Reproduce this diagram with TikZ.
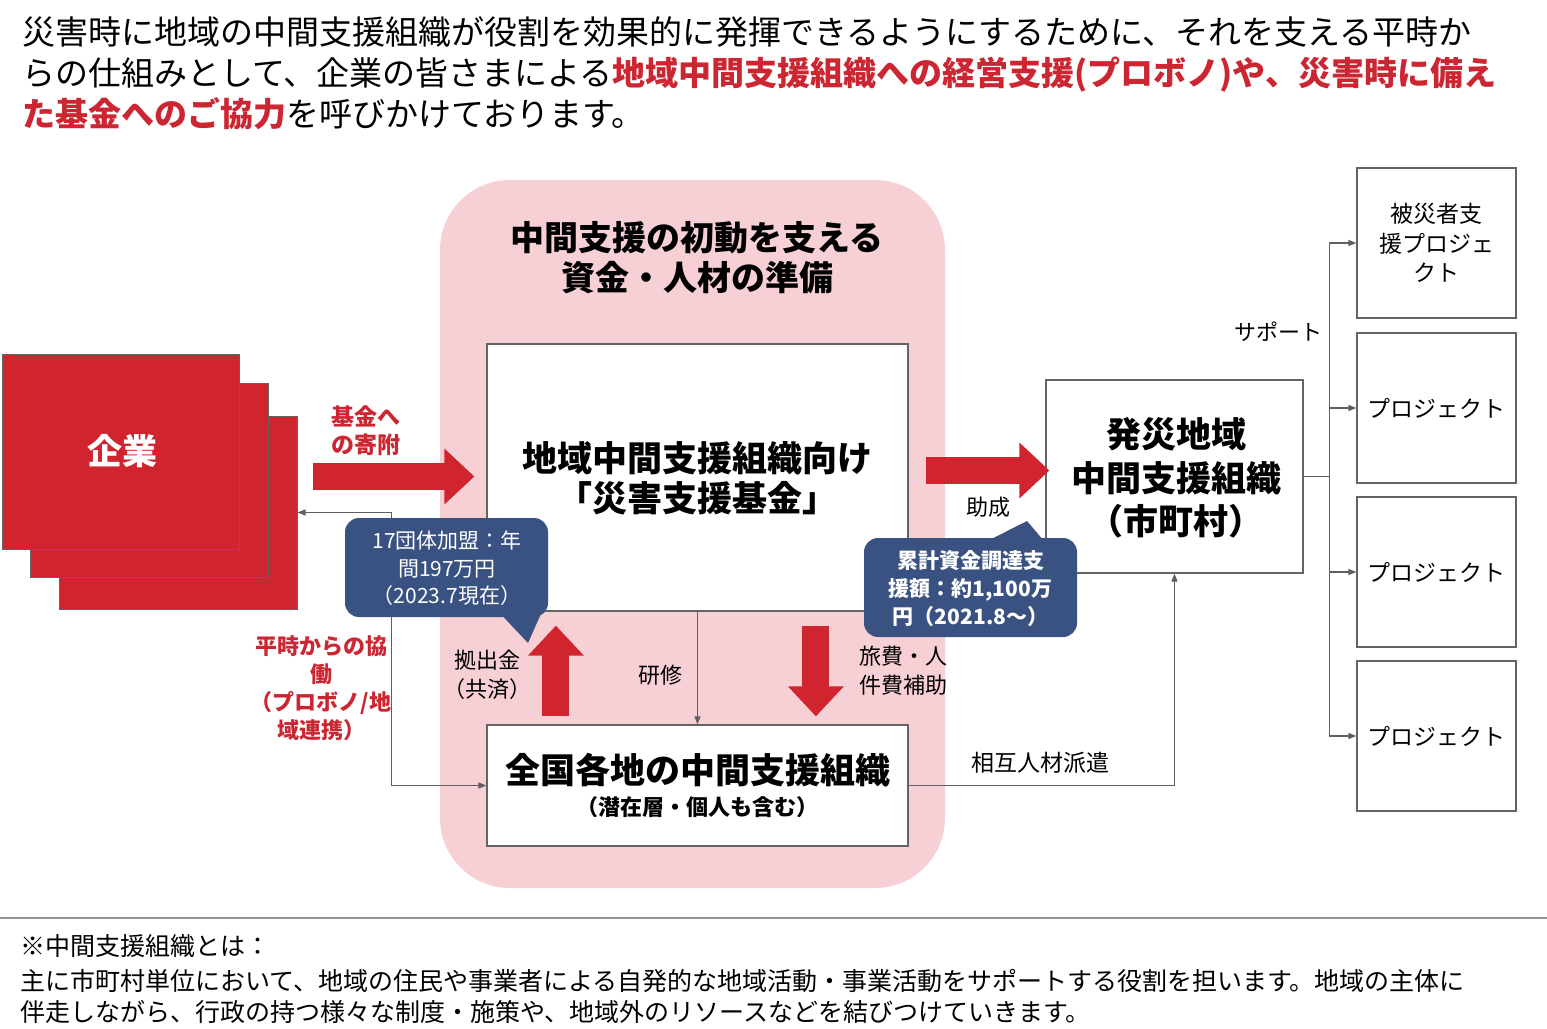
\documentclass[tikz,border=0pt]{standalone}
\usepackage{fontspec}
\setmainfont{Noto Sans CJK JP}
\usetikzlibrary{arrows.meta,calc}
\definecolor{cred}{RGB}{208,36,46}
\definecolor{tred}{RGB}{204,38,50}
\definecolor{cpink}{RGB}{247,208,214}
\definecolor{cnavy}{RGB}{58,82,130}
\definecolor{bgray}{RGB}{100,100,100}
\definecolor{lgray}{RGB}{95,95,95}
\begin{document}
\begin{tikzpicture}[x=1pt,y=-1pt,
  toptext/.style={inner sep=0pt, anchor=west, text height=29pt, text depth=4.5pt, font=\fontsize{33}{40}\selectfont},
  foottext/.style={inner sep=0pt, anchor=west, text height=22pt, text depth=3.5pt, font=\fontsize{25}{30}\selectfont},
  boxw/.style={draw=bgray, line width=1.2pt, fill=white, inner sep=0pt},
  redbox/.style={draw=bgray, line width=1pt, fill=cred, inner sep=0pt},
  projbox/.style={boxw, minimum width=159pt, minimum height=150pt},
  tline/.style={draw=lgray, line width=1.2pt},
  tarr/.style={tline, -{Triangle[length=8pt,width=6pt]}},
  bigarr/.style={draw=cred, line width=27pt, -{Triangle[length=30pt,width=54pt]}},
  callbox/.style={fill=cnavy, rounded corners=14pt, inner sep=0pt},
  lbl/.style={inner sep=0pt, align=center},
  wlbl/.style={lbl, text=white, font=\fontsize{21}{27.5}\selectfont},
  blbl/.style={lbl, font=\fontsize{22}{29}\selectfont},
  rlbl/.style={lbl, text=tred, font=\bfseries\fontsize{22}{28}\selectfont},
  bigtxt/.style={lbl, font=\bfseries\fontsize{35}{40}\selectfont},
  projtxt/.style={lbl, font=\fontsize{23}{29.5}\selectfont}
]
\useasboundingbox (0,0) rectangle (1547,1028);
\fill[white] (0,0) rectangle (1547,1028);

% top text
\node[toptext] (t1) at (22,32) {災害時に地域の中間支援組織が役割を効果的に発揮できるようにするために、それを支える平時か};
\node[toptext] (t2) at (22,73) {らの仕組みとして、企業の皆さまによる{\color{tred}\bfseries 地域中間支援組織への経営支援(プロボノ)や、災害時に備え}};
\node[toptext] (t3) at (22,114) {{\color{tred}\bfseries た基金へのご協力}を呼びかけております。};

% pink region
\node[fill=cpink, rounded corners=70pt, minimum width=505pt, minimum height=708pt, inner sep=0pt] (pink) at (692.5,534) {};
\node[lbl, font=\bfseries\fontsize{34}{40}\selectfont] (title) at (697,258) {中間支援の初動を支える\\資金・人材の準備};

% boxes
\node[boxw, minimum width=421pt, minimum height=267pt] (fund) at (697.5,477.5) {};
\node[bigtxt] (fundtxt) at (697.5,478) {地域中間支援組織向け\\「災害支援基金」};
\node[boxw, minimum width=421pt, minimum height=121pt] (bottom) at (697.5,785.5) {};
\node[bigtxt] (bt1) at (697.5,770) {全国各地の中間支援組織};
\node[lbl, font=\bfseries\fontsize{22}{26}\selectfont] (bt2) at (697.5,807) {（潜在層・個人も含む）};

% company stack
\node[redbox, minimum width=238pt, minimum height=193pt] (kb) at (178,512.5) {};
\node[redbox, minimum width=238pt, minimum height=194pt] (km) at (149,480) {};
\node[redbox, minimum width=237pt, minimum height=195pt] (kf) at (120.5,451.5) {};
\node[lbl, text=white, font=\bfseries\fontsize{35}{40}\selectfont] (ktxt) at (122,451) {企業};

% disaster area org
\node[boxw, minimum width=257pt, minimum height=193pt] (hassai) at (1174.5,476.5) {};
\node[lbl, font=\bfseries\fontsize{35}{43.5}\selectfont] (htxt) at (1176,478) {発災地域\\中間支援組織\\（市町村）};

% projects
\node[projbox] (p1) at (1436.5,243) {};
\node[projbox] (p2) at (1436.5,408) {};
\node[projbox] (p3) at (1436.5,572) {};
\node[projbox] (p4) at (1436.5,736) {};
\node[projtxt] (p1t) at (p1) {被災者支\\援プロジェ\\クト};
\node[projtxt] (p2t) at (p2) {プロジェクト};
\node[projtxt] (p3t) at (p3) {プロジェクト};
\node[projtxt] (p4t) at (p4) {プロジェクト};

% thin connectors
\coordinate (j1) at ($(kb.east)+(94,0)$);
\draw[tline, {Triangle[length=8pt,width=6pt]}-{Triangle[length=8pt,width=6pt]}] (kb.east) -- (j1) |- (bottom.west);
\draw[tarr] (fund.south) -- (bottom.north);
\draw[tarr] (bottom.east) -| (hassai.south);
\coordinate (j2) at ($(hassai.east)+(26,0)$);
\draw[tline] (hassai.east) -- (j2);
\foreach \p in {p1,p2,p3,p4} \draw[tarr] (j2) |- (\p.west);

% big red arrows
\coordinate (a1s) at ($(kb.east |- fund.west)+(15,-1)$);
\coordinate (a1e) at ($(fund.west)+(-12,-1)$);
\draw[bigarr] (a1s) -- (a1e);
\coordinate (a2s) at ($(fund.east)+(17,-7)$);
\draw[bigarr] (a2s) -- ([xshift=4pt]a2s -| hassai.west);
\coordinate (a3s) at ($(bottom.north west)+(69.5,-8)$);
\coordinate (a3e) at ($(fund.south west)+(69.5,14)$);
\draw[bigarr] (a3s) -- (a3e);
\coordinate (a4s) at ($(fund.south west)+(329.5,14)$);
\coordinate (a4e) at ($(bottom.north west)+(329.5,-8)$);
\draw[bigarr] (a4s) -- (a4e);

% callouts
\node[callbox, minimum width=203pt, minimum height=99pt] (cl) at (446.5,567.5) {};
\fill[cnavy] ($(cl.south west)+(156,-3)$) -- (528,643) -- ($(cl.south west)+(196,-3)$) -- cycle;
\node[wlbl] (clt) at (447,568.5) {17団体加盟：年\\間197万円\\（2023.7現在）};
\node[callbox, minimum width=213pt, minimum height=99pt] (cr) at (970.5,587.5) {};
\fill[cnavy] ($(cr.north west)+(124,3)$) -- (1027,521) -- ($(cr.north west)+(180,3)$) -- cycle;
\node[wlbl, font=\bfseries\fontsize{21}{28}\selectfont] (crt) at (970.5,589) {累計資金調達支\\援額：約1,100万\\円（2021.8～）};

% labels
\node[rlbl, font=\bfseries\fontsize{23}{28}\selectfont] (lki) at (366,431) {基金へ\\の寄附};
\node[rlbl] (lhei) at (321,688) {平時からの協\\働\\（プロボノ/地\\域連携）};
\node[blbl] (lkyo) at (487,675) {拠出金\\（共済）};
\node[blbl] (lken) at (660,675) {研修};
\node[blbl] (lryo) at (903,671) {旅費・人\\件費補助};
\node[blbl] (ljo) at (988,507) {助成};
\node[blbl, font=\fontsize{23}{29}\selectfont] (lso) at (1040,763) {相互人材派遣};
\node[blbl] (lsup) at (1278,332) {サポート};

% footer
\draw[draw=bgray!70, line width=1.5pt] (0,918) -- (1547,918);
\node[foottext] (f1) at (20,946) {※中間支援組織とは：};
\node[foottext] (f2) at (20,981) {主に市町村単位において、地域の住民や事業者による自発的な地域活動・事業活動をサポートする役割を担います。地域の主体に};
\node[foottext] (f3) at (20,1012) {伴走しながら、行政の持つ様々な制度・施策や、地域外のリソースなどを結びつけていきます。};
\end{tikzpicture}
\end{document}
